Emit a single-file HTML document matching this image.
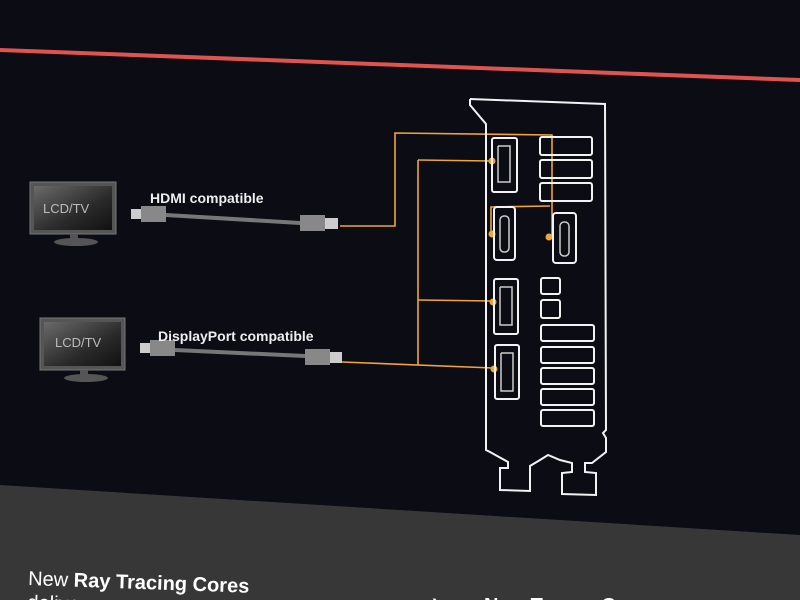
<!DOCTYPE html>
<html><head><style>
body{margin:0;width:800px;height:600px;overflow:hidden;background:#0b0c14;font-family:"Liberation Sans",sans-serif}
</style></head><body>
<svg width="800" height="600" viewBox="0 0 800 600" style="position:absolute;left:0;top:0">
<defs>
<linearGradient id="scr" x1="0" y1="0" x2="1" y2="1"><stop offset="0" stop-color="#6a6a6a"/><stop offset="0.6" stop-color="#2a2a2a"/><stop offset="1" stop-color="#111"/></linearGradient>
</defs>
<rect width="800" height="600" fill="#0b0c14"/>
<line x1="0" y1="50" x2="800" y2="80" stroke="#e0544f" stroke-width="4"/>
<polygon points="0,485 800,535 800,600 0,600" fill="#373737"/>
<g>
<rect x="30" y="182" width="86" height="52" fill="#555" stroke="#777"/>
<rect x="34" y="186" width="78" height="44" fill="url(#scr)"/>
<rect x="70" y="234" width="8" height="6" fill="#555"/>
<ellipse cx="76" cy="242" rx="22" ry="4" fill="#555"/>
<text x="43" y="213" fill="#bbb" font-size="13">LCD/TV</text>
</g>
<g>
<rect x="40" y="318" width="85" height="52" fill="#555" stroke="#777"/>
<rect x="44" y="322" width="77" height="44" fill="url(#scr)"/>
<rect x="80" y="370" width="8" height="6" fill="#555"/>
<ellipse cx="86" cy="378" rx="22" ry="4" fill="#555"/>
<text x="55" y="347" fill="#bbb" font-size="13">LCD/TV</text>
</g>
<g fill="#ccc">
<rect x="131" y="209" width="10" height="10"/><rect x="141" y="206" width="25" height="16" fill="#888"/>
<line x1="166" y1="215" x2="300" y2="223" stroke="#777" stroke-width="4"/>
<rect x="300" y="215" width="25" height="16" fill="#888"/><rect x="325" y="218" width="13" height="11"/>
<rect x="140" y="343" width="10" height="10"/><rect x="150" y="340" width="25" height="16" fill="#888"/>
<line x1="175" y1="350" x2="305" y2="356" stroke="#777" stroke-width="4"/>
<rect x="305" y="349" width="25" height="16" fill="#888"/><rect x="330" y="352" width="12" height="11"/>
</g>
<text x="150" y="203" fill="#eee" font-size="14" font-weight="bold">HDMI compatible</text>
<text x="158" y="341" fill="#eee" font-size="14" font-weight="bold">DisplayPort compatible</text>
<g stroke="#f0a53a" stroke-width="1.6" fill="none">
<polyline points="340,226 395,226 395,133 552,135 552,237"/>
<polyline points="418,160 492,161"/>
<polyline points="418,160 418,365"/>
<polyline points="418,300 493,301"/>
<polyline points="342,362 493,368"/>
<polyline points="491,234 491,207 550,206"/>
</g>
<g fill="#f0a53a">
<circle cx="492" cy="161" r="3.5"/><circle cx="492" cy="234" r="3.5"/><circle cx="549" cy="237" r="3.5"/>
<circle cx="493" cy="302" r="3.5"/><circle cx="494" cy="369" r="3.5"/>
</g>
<g stroke="#f2f2f2" stroke-width="2" fill="none">
<polyline points="470,99 605,104 606,430 603,433 606,438 606,452 592,463 585,463 585,472 596,473 596,495 562,494 562,473 572,472 572,463 560,460 548,455 540,460 530,466 530,491 500,490 500,468 508,468 508,462 490,452 486,450 486,124 470,105 470,99"/>
<rect x="492" y="138" width="25" height="54" rx="2"/>
<rect x="494" y="207" width="21" height="53" rx="3"/>
<rect x="553" y="213" width="23" height="50" rx="3"/>
<rect x="494" y="279" width="24" height="55" rx="2"/>
<rect x="495" y="345" width="24" height="54" rx="2"/>
<rect x="540" y="137" width="52" height="18" rx="2"/>
<rect x="540" y="160" width="52" height="18" rx="2"/>
<rect x="540" y="183" width="52" height="18" rx="2"/>
<rect x="541" y="278" width="19" height="16" rx="2"/>
<rect x="541" y="300" width="19" height="18" rx="2"/>
<rect x="541" y="325" width="53" height="16" rx="2"/>
<rect x="541" y="347" width="53" height="16" rx="2"/>
<rect x="541" y="368" width="53" height="16" rx="2"/>
<rect x="541" y="389" width="53" height="16" rx="2"/>
<rect x="541" y="410" width="53" height="16" rx="2"/>
</g>
<g stroke="#ccc" stroke-width="1.5" fill="none">
<polyline points="498,146 510,146 510,182 498,182 498,146"/>
<rect x="500" y="216" width="9" height="36" rx="4"/>
<rect x="560" y="222" width="9" height="34" rx="4"/>
<polyline points="500,287 512,287 512,325 500,325 500,287"/>
<polyline points="501,353 513,353 513,391 501,391 501,353"/>
</g>
<g transform="rotate(2 28 585)">
<text x="28" y="585" fill="#fff" font-size="20"><tspan>New </tspan><tspan font-weight="bold">Ray Tracing Cores</tspan></text>
<text x="28" y="609" fill="#fff" font-size="20">delivers</text>
</g>
<text x="432" y="608" fill="#fff" font-size="20" font-weight="bold">›</text>
<text x="484" y="612" fill="#fff" font-size="20" font-weight="bold">New Tensor Cores</text>
</svg>
</body></html>
